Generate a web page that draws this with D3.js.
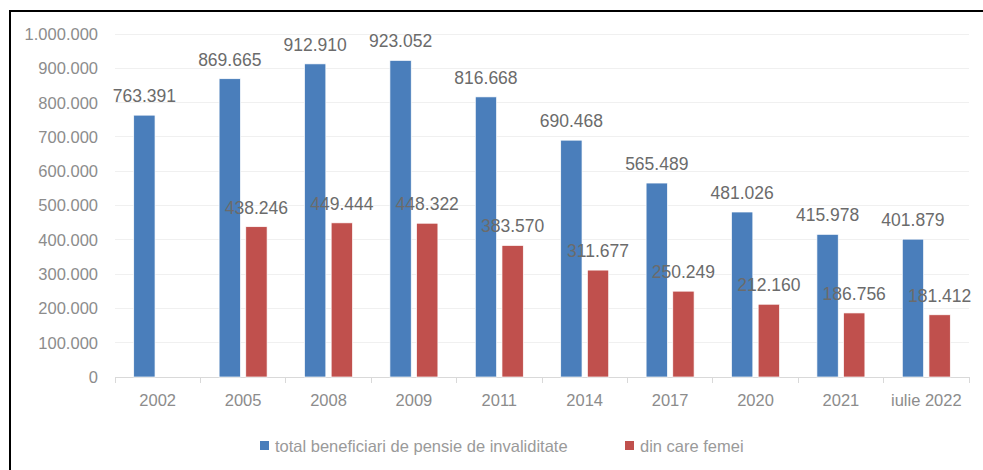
<!DOCTYPE html>
<meta charset="utf-8">
<style>
body { margin: 0; background: #fff; }
text { font-family: "Liberation Sans", Arial, sans-serif; }
.axis path, .axis line { fill: none; stroke: #d9d9d9; shape-rendering: crispEdges; }
.axis text { fill: #8c8c8c; font-size: 16.5px; }
</style>
<script src="https://d3js.org/d3.v7.min.js"></script>
<body>
<svg id="chart" width="983" height="470"></svg>
<script>
var years = ["2002", "2005", "2008", "2009", "2011", "2014", "2017", "2020", "2021", "iulie 2022"];
var total = [763391, 869665, 912910, 923052, 816668, 690468, 565489, 481026, 415978, 401879];
var femei = [null, 438246, 449444, 448322, 383570, 311677, 250249, 212160, 186756, 181412];
var seriesNames = ["total beneficiari de pensie de invaliditate", "din care femei"];
var colors = ["#4a7ebb", "#c0504d"];
var yTicks = [0, 100000, 200000, 300000, 400000, 500000, 600000, 700000, 800000, 900000, 1000000];

var svg = d3.select("#chart"),
    plotL = 115, plotR = 969, plotT = 34, plotB = 377;

var fmt = function(v) { return d3.format(",")(v).replace(/,/g, "."); };

// frame
svg.append("path")
  .attr("d", "M10,470V11H983")
  .attr("fill", "none")
  .attr("stroke", "#000")
  .attr("stroke-width", 2);

var x = d3.scaleBand().domain(years).range([plotL, plotR]);
var y = d3.scaleLinear().domain([0, 1000000]).range([plotB, plotT]);

// gridlines
svg.append("g").selectAll("line")
  .data(yTicks.slice(1))
  .enter().append("line")
  .attr("x1", plotL).attr("x2", plotR)
  .attr("y1", function(d) { return y(d); }).attr("y2", function(d) { return y(d); })
  .attr("stroke", "#f0f0f0")
  .attr("shape-rendering", "crispEdges");

// y axis labels
svg.append("g").selectAll("text")
  .data(yTicks)
  .enter().append("text")
  .attr("x", 98)
  .attr("y", function(d) { return y(d); })
  .attr("dy", "0.36em")
  .attr("text-anchor", "end")
  .attr("fill", "#8c8c8c")
  .style("font-size", "16.5px")
  .text(function(d) { return fmt(d); });

// x axis
var xAxis = svg.append("g")
  .attr("class", "axis")
  .attr("transform", "translate(0," + plotB + ")")
  .call(d3.axisBottom(x).tickSize(0).tickPadding(17));
xAxis.select(".domain").remove();
xAxis.append("line").attr("x1", plotL).attr("x2", plotR).attr("y1", 0.5).attr("y2", 0.5);
xAxis.selectAll(".sep")
  .data(d3.range(years.length + 1))
  .enter().append("line")
  .attr("x1", function(i) { return plotL + i * x.bandwidth(); })
  .attr("x2", function(i) { return plotL + i * x.bandwidth(); })
  .attr("y1", 0).attr("y2", 6);

var sub = d3.scaleBand().domain([0, 1]).range([0, 48]).paddingInner(0.2);
var groupOff = (x.bandwidth() - 48) / 2;

var rows = years.map(function(yr, i) { return {year: yr, vals: [total[i], femei[i]]}; });

var g = svg.append("g");
rows.forEach(function(r) {
  r.vals.forEach(function(v, k) {
    if (v == null) return;
    var bx = x(r.year) + groupOff + sub(k);
    g.append("rect")
      .attr("x", bx)
      .attr("y", y(v))
      .attr("width", sub.bandwidth())
      .attr("height", plotB - y(v))
      .attr("fill", colors[k])
      .attr("stroke", "#fff")
      .attr("stroke-width", 0.7);
  });
});
rows.forEach(function(r) {
  r.vals.forEach(function(v, k) {
    if (v == null) return;
    var bx = x(r.year) + groupOff + sub(k);
    g.append("text")
      .attr("x", bx + sub.bandwidth() / 2)
      .attr("y", y(v) - 13)
      .attr("text-anchor", "middle")
      .attr("fill", "#6b6b6b")
      .style("font-size", "17.5px")
      .text(fmt(v));
  });
});

// legend
var legX = [260, 625];
var leg = svg.append("g");
seriesNames.forEach(function(n, k) {
  leg.append("rect")
    .attr("x", legX[k]).attr("y", 441)
    .attr("width", 9).attr("height", 9)
    .attr("fill", colors[k]);
  leg.append("text")
    .attr("x", legX[k] + 15).attr("y", 446)
    .attr("dy", "0.36em")
    .attr("fill", "#9a9a9a")
    .style("font-size", "16.5px")
    .text(n);
});
</script>
</body>
